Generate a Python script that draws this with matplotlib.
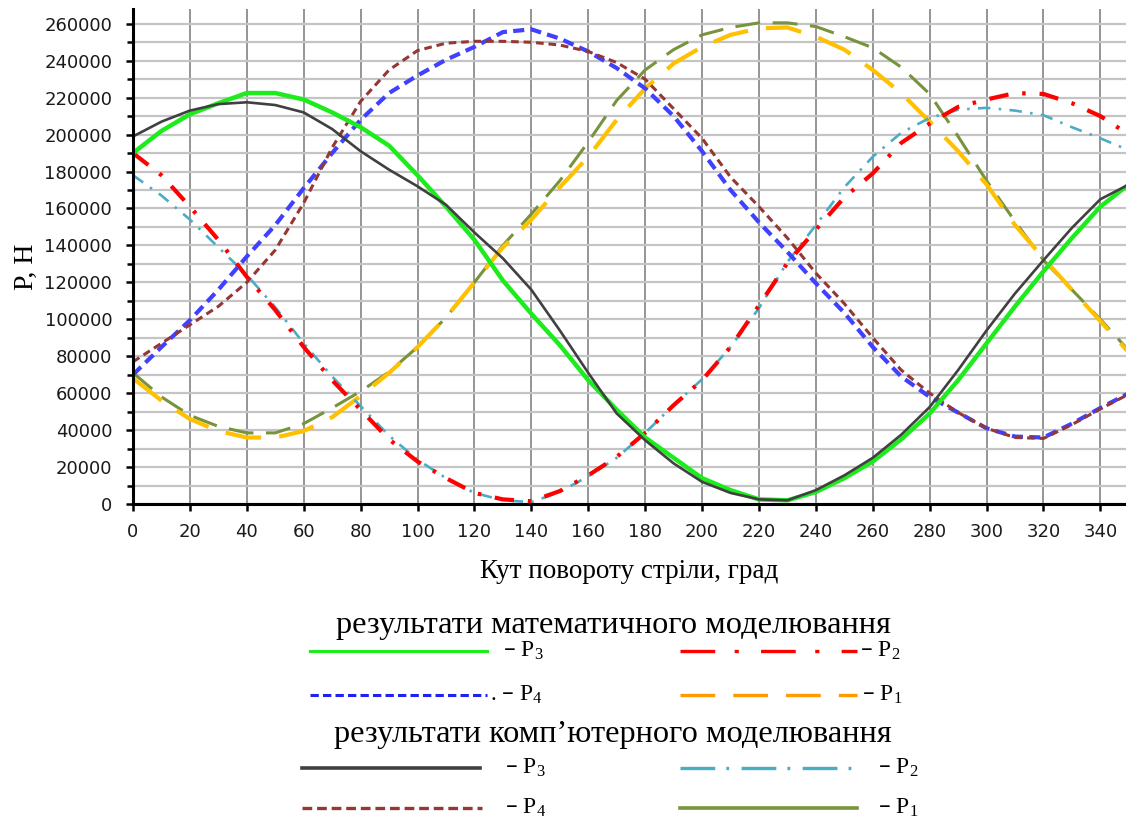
import numpy as np
import matplotlib.pyplot as plt
from matplotlib.lines import Line2D
from matplotlib.ticker import MultipleLocator

plt.rcParams['lines.scale_dashes'] = False
plt.rcParams['mathtext.default'] = 'regular'
plt.rcParams['lines.solid_joinstyle'] = 'round'

# data (forces P, H vs boom angle, deg)
angle = np.arange(0, 360, 10)

# mathematical modelling
p3_math = [190000, 202000, 211000, 217000, 222500, 222500, 219000, 212000, 204000, 194000,
           178000, 161000, 143000, 121000, 103000, 86000, 67000, 51000, 36000, 25000,
           14000, 7500, 2500, 2000, 6500, 14000, 23000, 35000, 49000, 67000,
           87000, 107000, 126000, 144000, 161000, 173000]
p2_math = [190000, 178000, 161000, 143000, 123000, 105000, 85000, 67000, 51000, 35000,
           23000, 14000, 6000, 2500, 1500, 7000, 15500, 25500, 38500, 53500,
           67000, 85000, 107500, 130500, 148500, 166000, 179000, 195500, 206000, 215000,
           219000, 222500, 222000, 217000, 210000, 200000]
p4_math = [70000, 85000, 99500, 116000, 134000, 151000, 171000, 190000, 208000, 222500,
           232000, 240500, 247500, 255500, 257000, 252000, 245000, 236000, 225000, 210000,
           191000, 170000, 152500, 136500, 119500, 103500, 85000, 69000, 58000, 49500,
           41000, 36500, 36000, 43500, 52000, 60000]
p1_math = [68000, 56000, 46000, 39500, 36000, 36000, 39500, 47000, 58500, 71000,
           85000, 101000, 120000, 139000, 154000, 171500, 188000, 208000, 225000, 238500,
           247500, 254000, 257500, 258000, 253000, 246000, 235000, 222500, 207000, 191000,
           173000, 151000, 133000, 116000, 99000, 82000]

# computer modelling
p3_comp = [199000, 207000, 213000, 216500, 217500, 216000, 212000, 203000, 191000, 181000,
           172000, 162000, 147000, 133000, 116000, 94000, 71000, 49000, 34500, 22000,
           12000, 6000, 2500, 2000, 7500, 15500, 25000, 37500, 52500, 72500,
           94000, 114000, 132000, 149500, 165000, 173000]
p2_comp = [178000, 167000, 154000, 139000, 124000, 106500, 87000, 69000, 53000, 37000,
           24000, 14000, 6000, 2000, 1000, 6500, 15000, 25000, 38500, 53500,
           67500, 85000, 106000, 131000, 151000, 171500, 188000, 201000, 209000, 213500,
           214500, 213000, 210500, 204000, 198000, 191500]
p4_comp = [77000, 87000, 97000, 107000, 120000, 137500, 163000, 193000, 218000, 235000,
           245500, 249500, 250500, 250500, 250000, 248500, 245000, 239000, 230000, 214000,
           198000, 177000, 161000, 144000, 125000, 108500, 90000, 72500, 60000, 49500,
           41000, 36000, 35500, 43000, 51500, 59500]
p1_comp = [71000, 58000, 48000, 42000, 38500, 38500, 43500, 52000, 61000, 71500,
           85000, 101000, 120000, 140000, 157000, 175000, 196000, 218500, 235000, 246000,
           254000, 258000, 260500, 260500, 258500, 253000, 247000, 236500, 222000, 199000,
           175000, 153000, 132000, 116000, 100000, 83000]

# colours
c_green = '#1CEB1C'
c_red = '#FF0000'
c_blue = '#4040FF'
c_gold = '#FFC000'
c_orange = '#FF9A00'
c_gray = '#404040'
c_cyan = '#4BACC6'
c_brown = '#953735'
c_olive = '#77933C'

W, H = 1126, 821
fig = plt.figure(figsize=(W / 100, H / 100), dpi=100)
ax = fig.add_axes([133 / W, 1 - 504 / H, (W - 133) / W, (504 - 9) / H])

# series
ax.plot(angle, p1_comp, color=c_olive, lw=2.2, dashes=(18, 9))
ax.plot(angle, p1_math, color=c_gold, lw=3.0, dashes=(26, 13))
ax.plot(angle, p2_comp, color=c_cyan, lw=1.9, dashes=(9, 6, 1.8, 6))
ax.plot(angle, p2_math, color=c_red, lw=3.0, dashes=(14, 10, 2.5, 10))
ax.plot(angle, p4_math, color=c_blue, lw=3.0, dashes=(8, 4.5))
ax.plot(angle, p4_comp, color=c_brown, lw=2.2, dashes=(5.5, 3.5))
ax.plot(angle, p3_math, color=c_green, lw=3.2)
ax.plot(angle, p3_comp, color=c_gray, lw=1.9)

ax.set_xlim(0, 349)
ax.set_ylim(0, 268000)
ax.xaxis.set_major_locator(MultipleLocator(20))
ax.yaxis.set_minor_locator(MultipleLocator(10000))
ax.set_yticks(np.arange(0, 260001, 20000))

ax.grid(axis='y', which='both', color='#C4C4C4', lw=1.6)
ax.grid(axis='x', which='major', color='#8C8C8C', lw=1.3)
ax.set_axisbelow(True)

for s in ['top', 'right']:
    ax.spines[s].set_visible(False)
for s in ['left', 'bottom']:
    ax.spines[s].set_linewidth(2.2)
    ax.spines[s].set_color('black')

ax.tick_params(axis='y', which='major', direction='out', length=5, width=1.8,
               labelsize=13, pad=10, labelcolor='#1a1a1a')
ax.tick_params(axis='y', which='minor', direction='out', length=4, width=1.8)
ax.tick_params(axis='x', which='major', direction='out', length=5, width=1.8,
               labelsize=13, pad=9, labelcolor='#1a1a1a')

serif = 'Liberation Serif'
fig.text(26 / W, 1 - 267 / H, 'P, H', rotation=90, ha='center', va='center',
         family=serif, fontsize=20)
fig.text(629 / W, 1 - 571 / H, 'Кут повороту стріли, град', ha='center', va='center',
         family=serif, fontsize=19.5)

# legend drawn by hand, as in the original
fig.text(613 / W, 1 - 625 / H, 'результати математичного моделювання',
         ha='center', va='center', family=serif, fontsize=23.3)
fig.text(613 / W, 1 - 734 / H, 'результати комп\u2019ютерного моделювання',
         ha='center', va='center', family=serif, fontsize=23.3)

def leg_line(x0, x1, y, label, xt, **kw):
    fig.add_artist(Line2D([x0 / W, x1 / W], [1 - y / H, 1 - y / H], transform=fig.transFigure, **kw))
    fig.text(xt / W, 1 - y / H, label, ha='left', va='center', family=serif, fontsize=17)

leg_line(310, 487, 651, '\u2013 P$_3$', 503, color=c_green, lw=2.2)
leg_line(680, 857, 651, '\u2013 P$_2$', 860, color=c_red, lw=2.4, dashes=(25, 14, 3, 16))
leg_line(310, 487, 695, '. \u2013 P$_4$', 490, color='#2020F0', lw=2.2, dashes=(6, 3))
leg_line(680, 857, 695, '\u2013 P$_1$', 862, color=c_orange, lw=2.4, dashes=(25, 13))
leg_line(302, 480, 768, '\u2013 P$_3$', 505, color=c_gray, lw=2.6)
leg_line(680, 855, 768, '\u2013 P$_2$', 878, color=c_cyan, lw=2.4, dashes=(25, 8, 2, 9))
leg_line(302, 482, 808, '\u2013 P$_4$', 505, color=c_brown, lw=2.4, dashes=(7, 3.5))
leg_line(680, 857, 808, '\u2013 P$_1$', 878, color=c_olive, lw=2.6)

fig.savefig('out.png', dpi=100)
